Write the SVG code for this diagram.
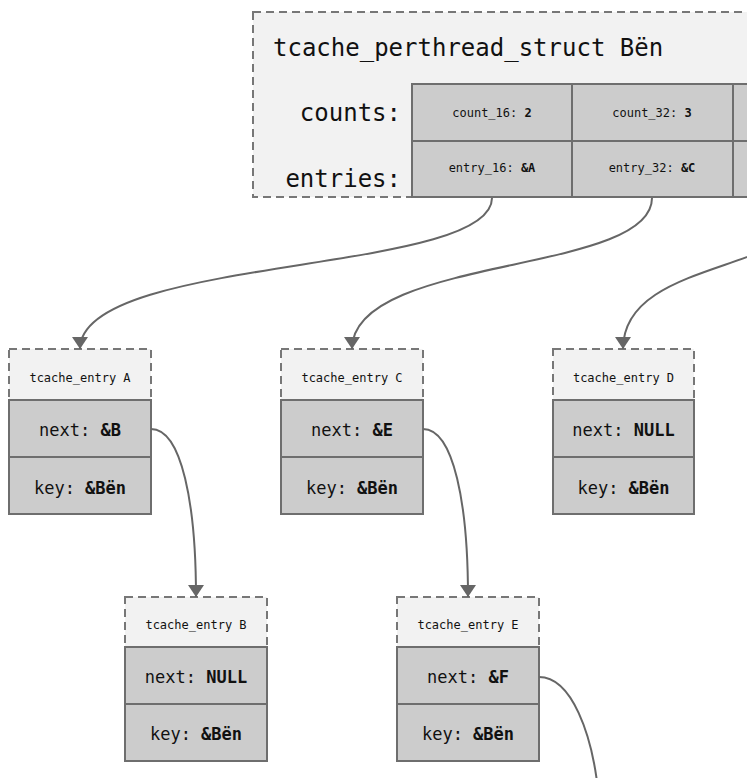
<svg xmlns="http://www.w3.org/2000/svg" width="747" height="778" viewBox="0 0 747 778">
<style>
.dash{fill:#f2f2f2;stroke:#777;stroke-width:2;stroke-dasharray:8,5}
.cell{fill:#cccccc;stroke:#6e6e6e;stroke-width:2}
text{font-family:"DejaVu Sans Mono","Liberation Mono",monospace;fill:#111}
.big{font-size:24px}
.small{font-size:12px;text-anchor:middle}
.hdr{font-size:12px;text-anchor:middle}
.row{font-size:17px;text-anchor:middle}
.b{font-weight:bold}
.edge{fill:none;stroke:#666;stroke-width:2}
</style>
<defs>
<marker id="ah" markerWidth="12" markerHeight="16" refX="12" refY="8" orient="auto" markerUnits="userSpaceOnUse" viewBox="0 0 12 16">
<path d="M0,0 L12,8 L0,16 Z" fill="#666"/>
</marker>
</defs>
<rect width="747" height="778" fill="#fff"/>
<g id="struct">
<rect class="dash" x="253" y="12" width="560" height="185"/>
<text class="big" x="273" y="56">tcache_perthread_struct Bën</text>
<text class="big" x="401" y="121" text-anchor="end">counts:</text>
<text class="big" x="401" y="187" text-anchor="end">entries:</text>
<rect class="cell" x="412" y="84" width="160" height="57"/>
<rect class="cell" x="572" y="84" width="161" height="57"/>
<rect class="cell" x="733" y="84" width="161" height="57"/>
<rect class="cell" x="412" y="141" width="160" height="56"/>
<rect class="cell" x="572" y="141" width="161" height="56"/>
<rect class="cell" x="733" y="141" width="161" height="56"/>
<text class="small" x="492" y="117">count_16: <tspan class="b">2</tspan></text>
<text class="small" x="652" y="117">count_32: <tspan class="b">3</tspan></text>
<text class="small" x="492" y="172">entry_16: <tspan class="b">&amp;A</tspan></text>
<text class="small" x="652" y="172">entry_32: <tspan class="b">&amp;C</tspan></text>
</g>
<g id="entryA">
<rect class="dash" x="9" y="349" width="142" height="51"/>
<text class="hdr" x="80" y="382">tcache_entry A</text>
<rect class="cell" x="9" y="400" width="142" height="57"/>
<rect class="cell" x="9" y="457" width="142" height="57"/>
<text class="row" x="80" y="436">next: <tspan class="b">&amp;B</tspan></text>
<text class="row" x="80" y="494">key: <tspan class="b">&amp;Bën</tspan></text>
</g>
<g id="entryC">
<rect class="dash" x="281" y="349" width="142" height="51"/>
<text class="hdr" x="352" y="382">tcache_entry C</text>
<rect class="cell" x="281" y="400" width="142" height="57"/>
<rect class="cell" x="281" y="457" width="142" height="57"/>
<text class="row" x="352" y="436">next: <tspan class="b">&amp;E</tspan></text>
<text class="row" x="352" y="494">key: <tspan class="b">&amp;Bën</tspan></text>
</g>
<g id="entryD">
<rect class="dash" x="553" y="349" width="141" height="51"/>
<text class="hdr" x="623.5" y="382">tcache_entry D</text>
<rect class="cell" x="553" y="400" width="141" height="57"/>
<rect class="cell" x="553" y="457" width="141" height="57"/>
<text class="row" x="623.5" y="436">next: <tspan class="b">NULL</tspan></text>
<text class="row" x="623.5" y="494">key: <tspan class="b">&amp;Bën</tspan></text>
</g>
<g id="entryB">
<rect class="dash" x="125" y="597" width="142" height="50"/>
<text class="hdr" x="196" y="629">tcache_entry B</text>
<rect class="cell" x="125" y="647" width="142" height="57"/>
<rect class="cell" x="125" y="704" width="142" height="57"/>
<text class="row" x="196" y="683">next: <tspan class="b">NULL</tspan></text>
<text class="row" x="196" y="740">key: <tspan class="b">&amp;Bën</tspan></text>
</g>
<g id="entryE">
<rect class="dash" x="397" y="597" width="142" height="50"/>
<text class="hdr" x="468" y="629">tcache_entry E</text>
<rect class="cell" x="397" y="647" width="142" height="57"/>
<rect class="cell" x="397" y="704" width="142" height="57"/>
<text class="row" x="468" y="683">next: <tspan class="b">&amp;F</tspan></text>
<text class="row" x="468" y="740">key: <tspan class="b">&amp;Bën</tspan></text>
</g>
<g id="connectors">
<path class="edge" marker-end="url(#ah)" d="M492,198 C492,275 80,255 80,349"/>
<path class="edge" marker-end="url(#ah)" d="M652,198 C652,275 352,255 352,349"/>
<path class="edge" marker-end="url(#ah)" d="M813,198 C813,275 623,255 623,349"/>
<path class="edge" marker-end="url(#ah)" d="M151,429 C182,429 196,505 196,597"/>
<path class="edge" marker-end="url(#ah)" d="M423,429 C454,429 468,505 468,597"/>
<path class="edge" d="M539,677 C572,677 592,735 598,790"/>
</g>
</svg>
